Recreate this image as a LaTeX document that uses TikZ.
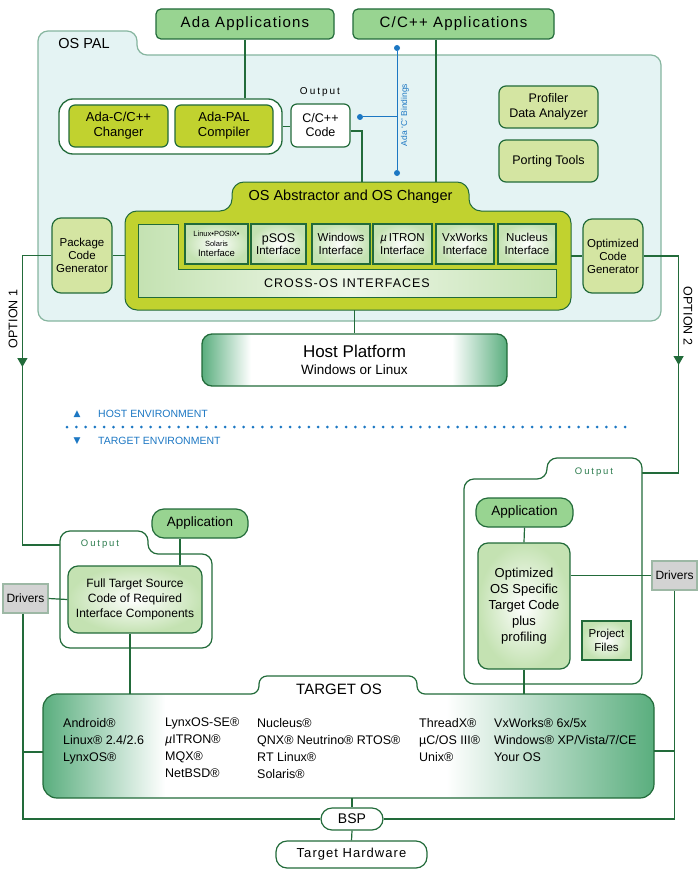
\documentclass[tikz,border=0pt]{standalone}
\usepackage{fontspec}
\setmainfont{Liberation Sans}
\newfontfamily\letterspc[LetterSpace=8]{Liberation Sans}
\newfontfamily\widespc[LetterSpace=20]{Liberation Sans}
\newfontfamily\dejavu{DejaVu Sans}
\usetikzlibrary{arrows.meta,decorations.markings}

\definecolor{dgreen}{HTML}{226B3A}
\definecolor{appgreen}{HTML}{98D491}
\definecolor{osolive}{HTML}{C1D22F}
\definecolor{lolive}{HTML}{D4E5A2}
\definecolor{palfill}{HTML}{E4F3F3}
\definecolor{paledge}{HTML}{86B59F}
\definecolor{ifgreen}{HTML}{C4E2B2}
\definecolor{gedge}{HTML}{5AAE7E}
\definecolor{envblue}{HTML}{1C77C3}
\definecolor{drvgray}{HTML}{D3D3D3}
\definecolor{drvedge}{HTML}{9DB8A5}
\definecolor{outgreen}{HTML}{2E7D4F}

\pgfdeclarehorizontalshading{hostshade}{100bp}{color(0bp)=(gedge); color(25bp)=(gedge); color(33bp)=(white); color(66bp)=(white); color(75bp)=(gedge); color(100bp)=(gedge)}
\pgfdeclarehorizontalshading{tgtshade}{100bp}{color(0bp)=(gedge); color(25bp)=(gedge); color(35bp)=(white); color(58bp)=(white); color(75bp)=(gedge); color(100bp)=(gedge)}

\begin{document}
\begin{tikzpicture}[
	x=1pt, y=-1pt,
	every node/.style={font=\fontsize{12}{14}\selectfont, inner sep=1pt},
	wire/.style={draw=dgreen, line width=1.2pt},
	appbox/.style={draw=dgreen, line width=1.2pt, fill=appgreen, rounded corners=5pt},
	olivebox/.style={draw=dgreen, line width=1.2pt, fill=osolive, rounded corners=6pt, align=center},
	toolbox/.style={draw=dgreen, line width=1.2pt, fill=lolive, rounded corners=7pt, align=center},
	ifbox/.style={draw=dgreen, line width=1.3pt, inner color=white, outer color=ifgreen, align=center, inner sep=0pt},
	outbox/.style={draw=dgreen, line width=1.2pt, inner color=white, outer color=ifgreen, rounded corners=10pt, align=center},
	drvbox/.style={draw=drvedge, line width=1.2pt, fill=drvgray},
	pillbox/.style={draw=dgreen, line width=1.2pt, fill=white, rounded corners=11pt},
	folder/.style={draw=dgreen, line width=1.2pt, fill=white, rounded corners=10pt},
	hostbox/.style={draw=dgreen, line width=1.3pt, rounded corners=10pt, shade, shading=hostshade, align=center},
	outlabel/.style={font=\widespc\fontsize{9.5}{11}\selectfont},
	envtext/.style={text=envblue, anchor=west, font=\fontsize{10.5}{12}\selectfont},
	bwire/.style={draw=envblue, line width=1pt},
	bdot/.style={circle, fill=envblue, inner sep=0pt, minimum size=6pt},
	oslist/.style={anchor=north west, align=left, font=\fontsize{12.5}{17}\selectfont, inner sep=0pt},
	optarrow/.style={postaction={decorate}, decoration={markings, mark=at position #1 with {\arrow{Triangle[width=10pt,length=9pt,color=dgreen]}}}}
]
\useasboundingbox (0,0) rectangle (700,872);

% host side
\draw[draw=paledge, line width=1.2pt, fill=palfill, rounded corners=10pt] (38,321) -- (38,31) -- (137,31) -- (137,55) -- (661,55) -- (661,321) -- cycle;
\node[font=\fontsize{14.5}{17}\selectfont] (ospal) at (84,44) {OS PAL};

\node[appbox, minimum width=178pt, minimum height=30pt, font=\letterspc\fontsize{15}{18}\selectfont] (adaapp) at (245,24) {Ada Applications};
\node[appbox, minimum width=201pt, minimum height=30pt, font=\letterspc\fontsize{15}{18}\selectfont] (capp) at (453.5,24) {C/C++ Applications};

\node[draw=dgreen, line width=1.3pt, fill=white, rounded corners=14pt, minimum width=223pt, minimum height=55pt] (adagroup) at (170.5,126.5) {};
\node[olivebox, minimum width=99pt, minimum height=42pt, font=\fontsize{13}{15}\selectfont] (changer) at (118.5,126) {Ada-C/C++\\Changer};
\node[olivebox, minimum width=98pt, minimum height=42pt, font=\fontsize{13}{15}\selectfont] (compiler) at (224,126) {Ada-PAL\\Compiler};
\node[font=\widespc\fontsize{10}{12}\selectfont] (outtop) at (320,92) {Output};
\node[draw=dgreen, line width=1.2pt, fill=white, rounded corners=6pt, minimum width=59pt, minimum height=43pt, align=center, font=\fontsize{12.5}{14}\selectfont] (ccode) at (320.5,125.5) {C/C++\\Code};

\node[toolbox, minimum width=99pt, minimum height=42pt, font=\fontsize{12.5}{14.5}\selectfont] (profiler) at (548.5,107) {Profiler\\Data Analyzer};
\node[toolbox, minimum width=99pt, minimum height=42pt, font=\fontsize{12.5}{14.5}\selectfont] (porting) at (548.5,161) {Porting Tools};

\draw[draw=dgreen, line width=1pt, fill=osolive, rounded corners=12pt] (125,310) -- (125,211) -- (232,211) -- (232,182) -- (469,182) -- (469,211) -- (571,211) -- (571,310) -- cycle;
\node[minimum width=446pt, minimum height=99pt, inner sep=0pt] (abstr) at (348,260.5) {};
\node[minimum width=237pt, minimum height=29pt, font=\fontsize{14.5}{17}\selectfont] (osabs) at (350.5,196.5) {OS Abstractor and OS Changer};
\draw[draw=dgreen, line width=1pt, left color=ifgreen, right color=ifgreen, middle color=ifgreen!30] (138,224) -- (178,224) -- (178,269) -- (556,269) -- (556,297) -- (138,297) -- cycle;
\node[font=\letterspc\fontsize{12.5}{15}\selectfont] (crossos) at (347,283.5) {CROSS-OS INTERFACES};

\node[ifbox, minimum width=63pt, minimum height=40pt, font=\fontsize{9.5}{10}\selectfont] (linuxif) at (216.5,244) {{\fontsize{7.5}{10}\selectfont Linux•POSIX•}\\{\fontsize{7.5}{10}\selectfont Solaris}\\Interface};
\node[ifbox, minimum width=55pt, minimum height=40pt, font=\fontsize{11.5}{12.5}\selectfont] (psosif) at (278.5,244) {{\fontsize{12.5}{12.5}\selectfont pSOS}\\Interface};
\node[ifbox, minimum width=58pt, minimum height=40pt, font=\fontsize{11.5}{12.5}\selectfont] (winif) at (341,244) {Windows\\Interface};
\node[ifbox, minimum width=59pt, minimum height=40pt, font=\fontsize{11.5}{12.5}\selectfont] (itronif) at (402.5,244) {{\itshape µ}\,ITRON\\Interface};
\node[ifbox, minimum width=58pt, minimum height=40pt, font=\fontsize{11.5}{12.5}\selectfont] (vxif) at (465,244) {VxWorks\\Interface};
\node[ifbox, minimum width=58pt, minimum height=40pt, font=\fontsize{11.5}{12.5}\selectfont] (nucif) at (527,244) {Nucleus\\Interface};

\node[toolbox, rounded corners=9pt, minimum width=60pt, minimum height=75pt, font=\fontsize{11.5}{13}\selectfont] (pkg) at (82,255.5) {Package\\Code\\Generator};
\node[toolbox, rounded corners=9pt, minimum width=60pt, minimum height=74pt, font=\fontsize{11.5}{13}\selectfont] (optgen) at (613,256) {Optimized\\Code\\Generator};

\node[bdot] (bt) at (397,48) {};
\node[bdot] (bb) at (397,173) {};
\node[bdot] (bl) at (360,117) {};
\draw[bwire] (bt) -- (bb);
\draw[bwire] (bl) -- (bl -| bt);
\node[rotate=90, text=envblue, font=\fontsize{8.5}{10}\selectfont] (bind) at (405,115) {Ada ‘C’ Bindings};

\draw[wire] (adaapp.south) -- (adaapp.south |- adagroup.north);
\draw[wire] (adagroup.east) -- (adagroup.east -| ccode.west);
\draw[wire] ([yshift=-5.5pt]ccode.east) -| ([xshift=11.5pt]osabs.north);
\draw[wire] ([xshift=-17.5pt]capp.south) -- ([xshift=-17.5pt]capp.south |- osabs.north);
\draw[wire] (pkg.east) -- (pkg.east -| abstr.west);
\draw[wire] (abstr.east |- optgen.west) -- (optgen.west);

\node[hostbox, minimum width=305pt, minimum height=52pt] (host) at (354.5,360) {\fontsize{17}{20}\selectfont Host Platform\\[3pt]{\fontsize{13.5}{16}\selectfont Windows or Linux}};
\draw[wire] (host.north |- abstr.south) -- (host.north);

% options
\coordinate (outlin) at (60,545);
\coordinate (outrin) at (642,473);
\draw[wire, optarrow=140.5pt] (pkg.west) -- ++(-29,0) |- (outlin);
\draw[wire, optarrow=144pt] (optgen.east) -- ++(35,0) |- (outrin);
\node[rotate=90, font=\fontsize{12.5}{15}\selectfont] (opt1) at (13,319) {OPTION 1};
\node[rotate=-90, font=\fontsize{12.5}{15}\selectfont] (opt2) at (688,316) {OPTION 2};

% environments
\node[text=envblue, font=\dejavu\fontsize{9}{10}\selectfont] (uptri) at (77,414) {▲};
\node[envtext] (hostenv) at (97,414) {HOST ENVIRONMENT};
\draw[envblue, line width=3pt, line cap=round, dash pattern=on 0pt off 9.3pt] (67,427) -- (625,427);
\node[text=envblue, font=\dejavu\fontsize{9}{10}\selectfont] (dntri) at (77,441) {▼};
\node[envtext] (tgtenv) at (97,441) {TARGET ENVIRONMENT};

% target side
\draw[folder] (60,648) -- (60,531) -- (148,531) -- (148,554) -- (212,554) -- (212,648) -- cycle;
\node[outlabel, text=outgreen] (outl) at (100,544) {Output};
\node[appbox, rounded corners=12pt, minimum width=96pt, minimum height=29pt, font=\fontsize{13.5}{16}\selectfont] (appl) at (200,523.5) {Application};
\node[outbox, minimum width=134pt, minimum height=67pt, font=\fontsize{12}{15}\selectfont] (fulltgt) at (135,599.5) {Full Target Source\\Code of Required\\Interface Components};
\node[drvbox, minimum width=45pt, minimum height=29pt] (drvl) at (25.5,598.5) {Drivers};

\draw[folder] (464,684) -- (464,479) -- (547,479) -- (547,458) -- (642,458) -- (642,684) -- cycle;
\node[outlabel, text=outgreen] (outr) at (594,472) {Output};
\node[appbox, rounded corners=12pt, minimum width=97pt, minimum height=29pt, font=\fontsize{13.5}{16}\selectfont] (appr) at (524.5,512.5) {Application};
\node[outbox, minimum width=92pt, minimum height=126pt, font=\fontsize{13}{16}\selectfont] (opttgt) at (524,606) {Optimized\\OS Specific\\Target Code\\plus\\profiling};
\node[draw=dgreen, line width=1.2pt, inner color=white, outer color=ifgreen, minimum width=49pt, minimum height=39pt, align=center, font=\fontsize{11.5}{13.5}\selectfont] (projf) at (606.5,640.5) {Project\\Files};
\node[drvbox, minimum width=45pt, minimum height=29pt] (drvr) at (674.5,575.5) {Drivers};

\draw[draw=dgreen, line width=1.2pt, shade, shading=tgtshade] [rounded corners=14pt] (43,798) -- (43,694) [rounded corners=8pt] -- (259,694) -- (259,676) -- (417,676) -- (417,694) [rounded corners=14pt] -- (654,694) -- (654,798) -- cycle;
\node[minimum width=611pt, minimum height=104pt, inner sep=0pt] (tgtos) at (348.5,746) {};
\node[font=\fontsize{15}{18}\selectfont] (tgtlbl) at (339,689) {TARGET OS};
\node[oslist] (col1) at (63,718) {Android®\\Linux® 2.4/2.6\\LynxOS®};
\node[oslist] (col2) at (165,718) {LynxOS-SE®\\{\itshape µ}ITRON®\\MQX®\\NetBSD®};
\node[oslist] (col3) at (257,718) {Nucleus®\\QNX® Neutrino® RTOS®\\RT Linux®\\Solaris®};
\node[oslist] (col4) at (419,718) {ThreadX®\\µC/OS III®\\Unix®};
\node[oslist] (col5) at (494,718) {VxWorks® 6x/5x\\Windows® XP/Vista/7/CE\\Your OS};

\node[pillbox, minimum width=62pt, minimum height=22pt, font=\fontsize{14}{16}\selectfont] (bsp) at (352,819) {BSP};
\node[pillbox, minimum width=151pt, minimum height=27pt, font=\letterspc\fontsize{13}{15}\selectfont] (thw) at (351.5,854.5) {Target Hardware};

\coordinate (lbus) at ([xshift=-2.5pt]drvl.south);
\draw[wire] (drvl.east) -- (fulltgt.west);
\draw[wire] (lbus) |- (bsp.west);
\draw[wire] ([yshift=-6pt]tgtos.west) -- ([yshift=-6pt]tgtos.west -| lbus);
\draw[wire] ([xshift=-20pt]appl.south) -- ([xshift=-20pt]appl.south |- fulltgt.north);
\draw[wire] ([xshift=-5pt]fulltgt.south) -- ([xshift=-5pt]fulltgt.south |- tgtos.north);
\draw[wire] (appr.south) -- (opttgt.north);
\draw[wire] (opttgt.south) -- (opttgt.south |- tgtos.north);
\draw[wire] (drvr.west -| opttgt.east) -- (drvr.west);
\draw[wire] (drvr.south) |- (bsp.east);
\draw[wire] ([yshift=-5pt]tgtos.east) -- ([yshift=-5pt]tgtos.east -| drvr.south);
\draw[wire] (bsp.north |- tgtos.south) -- (bsp.north);
\draw[wire] (bsp.south) -- (thw.north);
\end{tikzpicture}
\end{document}
